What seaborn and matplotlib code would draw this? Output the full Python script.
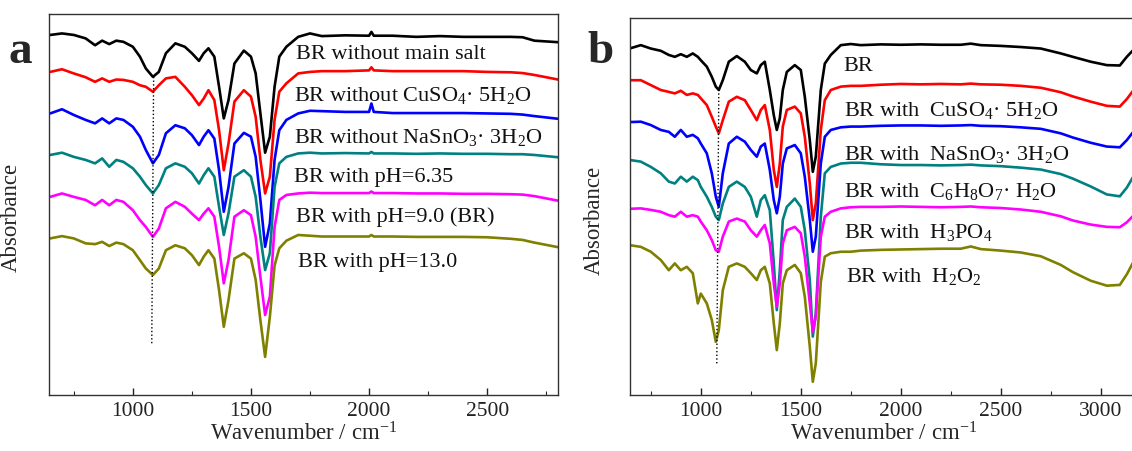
import numpy as np
import pandas as pd
import matplotlib
matplotlib.use('Agg')
import matplotlib.pyplot as plt
import seaborn as sns
from matplotlib.ticker import MultipleLocator

# ---- panel a: wavenumber grid (cm-1) and stacked absorbance traces (a.u.) ----
wn_a = [650, 700, 750, 800, 840, 870, 900, 930, 960, 1000, 1030, 1055, 1085, 1110,
        1140, 1180, 1220, 1250, 1280, 1300, 1320, 1345, 1365, 1385, 1405, 1430, 1470,
        1500, 1520, 1540, 1560, 1580, 1600, 1620, 1650, 1700, 1750, 1800, 1900, 2000,
        2010, 2020, 2100, 2200, 2300, 2400, 2500, 2600, 2650, 2700, 2800]

a_no_salt = [94.5, 94.9, 94.5, 93.6, 91.8, 93.0, 92.1, 93.0, 92.7, 91.4,
             88.8, 85.7, 83.5, 84.8, 89.7, 92.3, 91.4, 89.7, 87.7, 89.7,
             91.0, 88.8, 80.9, 72.6, 77.4, 87.0, 90.4, 88.8, 84.4, 73.9,
             63.6, 67.8, 80.9, 88.8, 91.4, 94.0, 94.9, 94.2, 94.4, 94.3,
             95.3, 94.3, 94.3, 94.0, 94.2, 94.0, 94.0, 94.0, 93.9, 93.0, 92.6]
a_no_cu = [84.8, 85.5, 84.4, 83.4, 82.2, 83.1, 82.2, 82.8, 82.7, 82.2,
           81.3, 80.9, 79.6, 81.3, 83.1, 83.5, 80.9, 78.7, 76.1, 77.8,
           80.0, 77.4, 69.5, 59.0, 66.0, 77.0, 80.0, 78.3, 73.0, 61.7,
           52.9, 57.3, 72.2, 79.6, 81.8, 84.4, 84.8, 85.0, 85.0, 85.2,
           86.0, 85.2, 85.0, 85.0, 85.0, 85.0, 84.8, 84.7, 84.5, 84.0, 82.8]
a_no_sn = [73.9, 75.0, 73.5, 72.2, 71.3, 72.6, 71.3, 72.6, 72.2, 70.4,
           67.8, 64.3, 60.8, 63.0, 68.7, 70.8, 70.0, 68.2, 65.6, 67.8,
           69.5, 67.3, 59.0, 48.1, 54.6, 66.0, 68.8, 67.8, 62.5, 51.2,
           38.9, 45.0, 61.7, 69.5, 72.2, 73.9, 74.6, 74.5, 74.3, 74.3,
           76.5, 74.3, 74.0, 74.0, 74.0, 74.0, 73.9, 73.8, 73.6, 73.2, 72.5]
a_ph635 = [63.0, 63.6, 62.5, 61.7, 60.8, 62.1, 59.9, 61.7, 61.2, 59.5,
           57.3, 55.1, 52.9, 55.1, 59.5, 60.8, 59.9, 58.2, 55.5, 57.7,
           59.5, 57.3, 49.4, 42.0, 47.7, 57.3, 59.0, 57.3, 52.0, 41.5,
           32.8, 37.2, 54.6, 60.8, 62.5, 63.4, 63.6, 63.4, 63.5, 63.4,
           63.8, 63.4, 63.4, 63.3, 63.4, 63.3, 63.3, 63.2, 63.2, 63.0, 62.4]
a_ph90 = [52.0, 52.9, 52.0, 51.2, 49.8, 51.2, 49.8, 51.2, 50.7, 48.5,
          45.9, 44.1, 41.5, 43.7, 49.0, 50.7, 49.4, 47.6, 45.9, 47.6,
          49.0, 46.8, 38.9, 29.3, 35.4, 46.8, 48.5, 47.2, 41.5, 31.0,
          21.0, 25.8, 44.1, 51.2, 52.5, 52.9, 53.1, 53.0, 53.0, 53.0,
          53.4, 53.0, 53.0, 52.9, 52.9, 52.8, 52.8, 52.7, 52.6, 52.2, 51.0]
a_ph130 = [41.1, 41.7, 41.1, 39.8, 39.6, 40.2, 39.1, 40.0, 39.6, 38.0,
           35.4, 33.2, 31.5, 33.2, 38.0, 39.3, 38.5, 36.7, 34.1, 36.3,
           38.0, 35.8, 27.5, 17.9, 24.9, 35.8, 37.2, 35.8, 30.2, 19.6,
           10.0, 20.5, 34.0, 38.5, 40.5, 42.0, 41.8, 41.6, 41.6, 41.6,
           42.0, 41.6, 41.6, 41.5, 41.5, 41.5, 41.4, 41.0, 40.7, 40.0, 38.8]

labels_a = ['BR without main salt',
            'BR without CuSO$_4$· 5H$_2$O',
            'BR without NaSnO$_3$· 3H$_2$O',
            'BR with pH=6.35',
            'BR with pH=9.0 (BR)',
            'BR with pH=13.0']
label_x_a = [1691, 1682, 1682, 1682, 1691, 1699]
label_y_a = [89.5, 78.6, 67.7, 57.2, 46.7, 34.9]
guide_a_x = [1088, 1080]
guide_a_y = [83.5, 13.0]

# ---- panel b ----
wn_b = [650, 700, 750, 800, 840, 870, 900, 930, 960, 985, 1000, 1030, 1055, 1075,
        1090, 1110, 1140, 1180, 1220, 1250, 1280, 1300, 1320, 1345, 1365, 1380, 1395,
        1410, 1430, 1470, 1500, 1520, 1545, 1560, 1575, 1600, 1620, 1650, 1700, 1750,
        1800, 1900, 2000, 2100, 2200, 2300, 2350, 2400, 2500, 2600, 2700, 2800, 2860,
        2950, 3030, 3095, 3130, 3180]

b_br = [92.0,
        92.8, 91.9, 91.3, 90.2, 89.7, 90.4, 89.7, 90.6, 89.7, 88.8,
        87.1, 84.4, 81.8, 80.9, 83.5, 88.4, 89.9, 88.4, 86.2, 85.3,
        87.5, 88.4, 80.9, 74.2, 70.3, 73.4, 80.9, 85.7, 87.5, 86.2,
        79.1, 67.6, 59.2, 63.2, 80.9, 87.9, 90.2, 92.8, 93.1, 92.8,
        93.0, 92.9, 93.0, 92.9, 92.9, 93.2, 92.8, 92.6, 92.3, 91.9,
        90.6, 89.7, 88.4, 87.5, 87.4, 89.7, 92.5]
b_cu = [83.5,
        83.5, 82.2, 80.9, 80.4, 80.0, 80.7, 79.6, 80.0, 79.6, 78.7,
        76.9, 73.8, 71.2, 69.4, 72.9, 77.8, 79.1, 78.2, 75.6, 72.9,
        75.6, 76.9, 70.3, 59.7, 55.2, 61.4, 71.2, 75.6, 76.5, 74.7,
        68.5, 56.1, 46.4, 50.8, 70.3, 78.2, 80.9, 81.8, 82.0, 82.0,
        82.3, 82.5, 82.4, 82.5, 82.4, 82.6, 82.4, 82.3, 82.0, 81.5,
        80.3, 79.2, 77.8, 76.7, 76.5, 78.5, 82.0]
b_sn = [72.4,
        72.5, 71.6, 70.3, 69.8, 68.5, 70.3, 68.5, 69.0, 68.1, 66.7,
        64.1, 58.8, 52.6, 49.9, 58.8, 66.7, 68.5, 67.2, 65.0, 63.2,
        65.9, 66.7, 59.7, 51.7, 48.2, 52.6, 61.4, 65.4, 66.3, 64.1,
        57.9, 46.4, 38.0, 42.0, 61.4, 68.5, 70.3, 71.0, 71.2, 71.2,
        71.4, 71.5, 71.5, 71.4, 71.5, 71.6, 71.4, 71.3, 71.0, 70.6,
        69.4, 68.3, 66.9, 65.9, 65.7, 67.6, 71.0]
b_citric = [62.3,
            61.9, 60.5, 58.8, 56.6, 56.1, 57.9, 56.6, 57.9, 57.0, 55.2,
            52.6, 49.9, 47.3, 46.4, 50.8, 55.2, 56.6, 55.2, 52.6, 47.3,
            51.7, 53.0, 49.0, 34.9, 22.5, 33.1, 46.4, 49.9, 52.1, 49.9,
            43.7, 30.5, 15.5, 21.6, 47.3, 58.8, 60.5, 61.4, 61.6, 61.6,
            61.2, 61.0, 61.0, 60.9, 61.0, 61.1, 60.9, 60.7, 60.3, 59.8,
            58.6, 57.4, 55.3, 53.2, 52.7, 55.0, 59.5]
b_h3po4 = [49.4,
           49.5, 49.1, 48.6, 47.7, 47.3, 48.6, 47.3, 47.7, 47.3, 46.0,
           43.7, 41.1, 38.4, 38.0, 42.0, 46.0, 46.8, 46.0, 43.7, 42.0,
           43.7, 45.1, 40.2, 29.6, 23.4, 29.6, 40.2, 43.7, 44.6, 42.9,
           36.7, 24.3, 16.8, 20.8, 42.0, 47.3, 48.6, 49.5, 49.8, 49.9,
           49.9, 50.0, 49.9, 49.8, 49.9, 50.0, 49.8, 49.6, 49.2, 48.6,
           47.4, 46.3, 45.2, 44.6, 44.5, 45.8, 48.5]
b_h2o2 = [39.7,
          39.3, 38.0, 35.8, 33.1, 34.9, 33.1, 34.0, 32.3, 24.3, 26.9,
          24.3, 19.9, 14.1, 17.2, 27.8, 34.0, 34.9, 34.0, 32.3, 30.5,
          33.1, 34.0, 29.6, 19.0, 11.9, 19.0, 29.6, 33.1, 34.5, 32.3,
          26.1, 12.8, 3.5, 8.4, 30.0, 36.7, 37.6, 38.0, 38.0, 38.3,
          38.5, 38.6, 38.7, 38.8, 38.8, 39.4, 38.7, 38.3, 37.8, 36.8,
          34.5, 32.6, 30.3, 29.0, 29.2, 32.0, 37.0]

labels_b = ['BR',
            'BR with  CuSO$_4$· 5H$_2$O',
            'BR with  NaSnO$_3$· 3H$_2$O',
            'BR with  C$_6$H$_8$O$_7$· H$_2$O',
            'BR with  H$_3$PO$_4$',
            'BR with  H$_2$O$_2$']
label_x_b = [1714, 1714, 1714, 1714, 1714, 1726]
label_y_b = [87.1, 75.5, 63.8, 54.1, 43.2, 31.3]
guide_b_x = [1090, 1080]
guide_b_y = [81.0, 8.3]

colors = ['black', 'red', 'blue', '#008080', 'magenta', '#808000']

sns.set_theme(style='ticks')
plt.rcParams['font.family'] = ['Liberation Serif', 'DejaVu Serif']
plt.rcParams['mathtext.fontset'] = 'custom'
plt.rcParams['mathtext.rm'] = 'Liberation Serif'
plt.rcParams['mathtext.it'] = 'Liberation Serif:italic'
plt.rcParams['mathtext.bf'] = 'Liberation Serif:bold'


def long_table(wn, series, names):
    frames = []
    for name, vals in zip(names, series):
        frames.append(pd.DataFrame({'wn': wn, 'absorb': vals, 'sample': name}))
    return pd.concat(frames, ignore_index=True)


df_a = long_table(wn_a, [a_no_salt, a_no_cu, a_no_sn, a_ph635, a_ph90, a_ph130], labels_a)
df_b = long_table(wn_b, [b_br, b_cu, b_sn, b_citric, b_h3po4, b_h2o2], labels_b)

W, H = 1132, 451
fig = plt.figure(figsize=(W / 100, H / 100), dpi=100)
ax_a = fig.add_axes([49 / W, 1 - 395 / H, 509 / W, 381 / H])
ax_b = fig.add_axes([630.4 / W, 1 - 395 / H, 506 / W, 377 / H])

panels = [
    (ax_a, df_a, labels_a, label_x_a, label_y_a, guide_a_x, guide_a_y, (645, 2800), [1000, 1500, 2000, 2500]),
    (ax_b, df_b, labels_b, label_x_b, label_y_b, guide_b_x, guide_b_y, (648, 3178), [1000, 1500, 2000, 2500, 3000]),
]

for ax, df, names, lx, ly, gx, gy, xlim, ticks in panels:
    sns.lineplot(data=df, x='wn', y='absorb', hue='sample', hue_order=names,
                 palette=colors, legend=False, linewidth=1.9, sort=False, ax=ax)
    ax.plot(gx, gy, color='black', linestyle=':', linewidth=1.0)
    for name, x, y in zip(names, lx, ly):
        ax.text(x, y, name, fontsize=16, ha='left', va='center', color='#111111')
    ax.set_xlim(*xlim)
    ax.set_ylim(0, 100)
    ax.set_xticks(ticks)
    ax.xaxis.set_minor_locator(MultipleLocator(250))
    ax.tick_params(axis='x', which='major', direction='in', length=5, width=1,
                   labelsize=15.5, pad=5, colors='#222222')
    ax.tick_params(axis='x', which='minor', direction='in', length=3, width=0.8)
    ax.tick_params(axis='y', left=False, labelleft=False)
    ax.set_yticks([])
    for sp in ax.spines.values():
        sp.set_linewidth(1.0)
        sp.set_color('#333333')
    ax.set_xlabel('Wavenumber / cm$^{-1}$', fontsize=16.5, labelpad=1)
    ax.set_ylabel('Absorbance', fontsize=16.5)

ax_a.yaxis.set_label_coords(-0.053, 0.467)
ax_b.yaxis.set_label_coords(-0.050, 0.464)

fig.text(20 / W, 1 - 63 / H, 'a', fontsize=34, fontweight='bold', ha='center', va='baseline')
fig.text(600 / W, 1 - 63 / H, 'b', fontsize=34, fontweight='bold', ha='center', va='baseline')

fig.savefig('out.png', dpi=100)
